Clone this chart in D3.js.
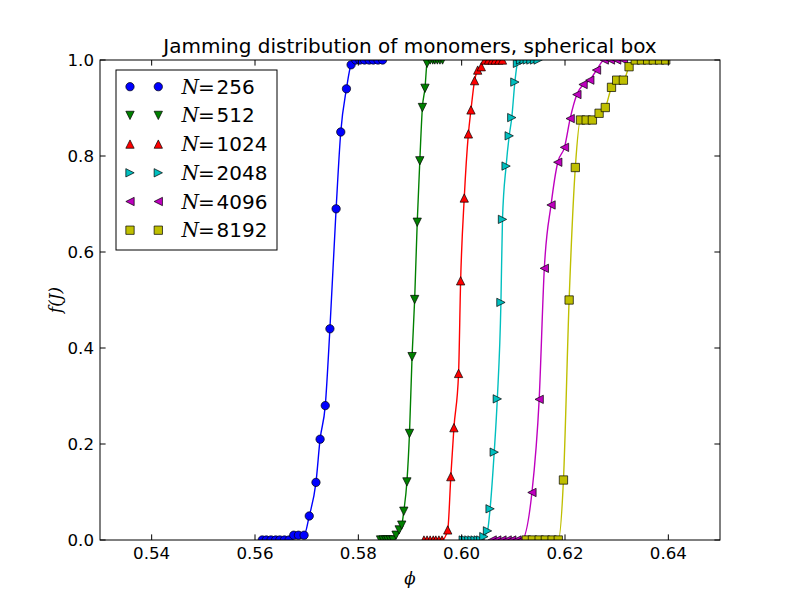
<!DOCTYPE html>
<html>
<head>
<meta charset="utf-8">
<script src="https://cdn.jsdelivr.net/npm/d3@7"></script>
<style>
  body { margin: 0; background: #ffffff; }
  svg { display: block; }
</style>
</head>
<body>
<svg id="chart" width="800" height="600"></svg>
<script>
// ---------- data ----------
const seriesNames = ["256", "512", "1024", "2048", "4096", "8192"];

const phi256 = [0.5614,0.5622,0.5631,0.5640,0.5648,0.5657,0.5666,0.5675,0.5684,0.5695,0.5705,0.5718,0.5726,0.5736,0.5745,0.5757,0.5766,0.5777,0.5786,0.5795,0.5803,0.5812,0.5821,0.5829,0.5838,0.5847];
const f256   = [0,0,0,0,0,0,0,0.01,0.01,0.01,0.05,0.12,0.21,0.28,0.44,0.69,0.85,0.94,0.99,1,1,1,1,1,1,1];

const phi512 = [0.5843,0.5848,0.5853,0.5857,0.5862,0.5867,0.5873,0.5879,0.5884,0.5888,0.5894,0.5899,0.5904,0.5909,0.5914,0.5919,0.5924,0.5929,0.5933,0.5939,0.5944,0.5948,0.5953,0.5958,0.5963];
const f512   = [0,0,0,0,0,0,0.01,0.021,0.031,0.06,0.121,0.222,0.382,0.501,0.662,0.79,0.901,0.941,0.993,1,1,1,1,1,1];

const phi1024 = [0.5927,0.5933,0.5939,0.5945,0.5950,0.5956,0.5962,0.5973,0.5979,0.5985,0.5994,0.5998,0.6005,0.6013,0.6018,0.6025,0.6031,0.6038,0.6045,0.6052,0.6059,0.6065,0.6072,0.6079];
const f1024   = [0,0,0,0,0,0,0,0.021,0.132,0.234,0.347,0.54,0.7125,0.846,0.896,0.957,0.979,0.986,1,1,1,1,1,1];

const phi2048 = [0.6003,0.6008,0.6014,0.6020,0.6026,0.6032,0.6037,0.6043,0.6050,0.6055,0.6063,0.6069,0.6076,0.6079,0.6086,0.6092,0.6097,0.6103,0.6108,0.6114,0.6121,0.6127,0.6134,0.6141,0.6148];
const f2048   = [0,0,0,0,0,0,0,0.007,0.019,0.065,0.183,0.294,0.495,0.668,0.779,0.842,0.88,0.954,0.993,1,1,1,1,1,1];

const phi4096 = [0.6059,0.6068,0.6078,0.6088,0.6097,0.6107,0.6116,0.6136,0.6150,0.6160,0.6173,0.6186,0.6199,0.6210,0.6223,0.6235,0.6248,0.6261,0.6276,0.6288,0.6300,0.6313];
const f4096   = [0,0,0,0,0,0,0,0.099,0.293,0.566,0.698,0.787,0.818,0.878,0.928,0.949,0.958,0.979,1,1,1,1];

const phi8192 = [0.6125,0.6137,0.6150,0.6162,0.6175,0.6187,0.6197,0.6208,0.6220,0.6230,0.6241,0.6253,0.6266,0.6278,0.6290,0.6300,0.6313,0.6324,0.6336,0.6348,0.6360,0.6371,0.6383,0.6395];
const f8192   = [0,0,0,0,0,0,0.125,0.50,0.776,0.875,0.875,0.875,0.889,0.901,0.943,0.958,0.958,0.986,1,1,1,1,1,1];

const xTicks = [0.54, 0.56, 0.58, 0.60, 0.62, 0.64];
const yTicks = [0.0, 0.2, 0.4, 0.6, 0.8, 1.0];
const titleText = "Jamming distribution of monomers, spherical box";

// ---------- setup ----------
const phis = [phi256, phi512, phi1024, phi2048, phi4096, phi8192];
const fs = [f256, f512, f1024, f2048, f4096, f8192];
const colors = ["#0000ff", "#008000", "#ff0000", "#00bfbf", "#bf00bf", "#bfbf00"];
const markers = ["circle", "tdown", "tup", "tright", "tleft", "square"];

const W = 800, H = 600;
const m = { left: 100, right: 80, top: 60, bottom: 60 };
const x = d3.scaleLinear().domain([0.53, 0.65]).range([m.left, W - m.right]);
const y = d3.scaleLinear().domain([0, 1]).range([H - m.bottom, m.top]);

const svg = d3.select("#chart");
svg.append("rect").attr("width", W).attr("height", H).attr("fill", "#ffffff");

svg.append("defs").append("clipPath").attr("id", "clip")
  .append("rect").attr("x", m.left).attr("y", m.top)
  .attr("width", W - m.left - m.right).attr("height", H - m.top - m.bottom);

const ms = 8.33, h = ms / 2;
function markerPath(type) {
  switch (type) {
    case "circle": return d3.symbol(d3.symbolCircle, Math.PI * h * h)();
    case "tup": return `M0,${-h}L${-h},${h}L${h},${h}Z`;
    case "tdown": return `M0,${h}L${-h},${-h}L${h},${-h}Z`;
    case "tright": return `M${h},0L${-h},${-h}L${-h},${h}Z`;
    case "tleft": return `M${-h},0L${h},${-h}L${h},${h}Z`;
    case "square": return `M${-h},${-h}H${h}V${h}H${-h}Z`;
  }
}

const plot = svg.append("g").attr("clip-path", "url(#clip)");
const line = d3.line().x(d => x(d[0])).y(d => y(d[1])).curve(d3.curveMonotoneX);

seriesNames.forEach((name, i) => {
  const pts = phis[i].map((p, k) => [p, fs[i][k]]);
  const g = plot.append("g");
  g.append("path").datum(pts).attr("d", line)
    .attr("fill", "none").attr("stroke", colors[i]).attr("stroke-width", 1.39);
  g.selectAll("path.mk").data(pts).join("path").attr("class", "mk")
    .attr("d", markerPath(markers[i]))
    .attr("transform", d => `translate(${x(d[0])},${y(d[1])})`)
    .attr("fill", colors[i]).attr("stroke", "#000").attr("stroke-width", 0.7);
});

// ---------- axes ----------
const tickLen = 5.6;
const font = "DejaVu Sans, sans-serif";
const axes = svg.append("g");
xTicks.forEach(t => {
  const px = x(t);
  axes.append("line").attr("x1", px).attr("x2", px).attr("y1", y(0)).attr("y2", y(0) - tickLen).attr("stroke", "#000");
  axes.append("line").attr("x1", px).attr("x2", px).attr("y1", y(1)).attr("y2", y(1) + tickLen).attr("stroke", "#000");
  axes.append("text").attr("x", px).attr("y", y(0) + 18.5).attr("text-anchor", "middle")
    .attr("font-family", font).attr("font-size", 16.67).text(t.toFixed(2));
});
yTicks.forEach(t => {
  const py = y(t);
  axes.append("line").attr("x1", m.left).attr("x2", m.left + tickLen).attr("y1", py).attr("y2", py).attr("stroke", "#000");
  axes.append("line").attr("x1", W - m.right).attr("x2", W - m.right - tickLen).attr("y1", py).attr("y2", py).attr("stroke", "#000");
  axes.append("text").attr("x", m.left - 6).attr("y", py + 6).attr("text-anchor", "end")
    .attr("font-family", font).attr("font-size", 16.67).text(t.toFixed(1));
});
axes.append("rect").attr("x", m.left).attr("y", m.top)
  .attr("width", W - m.left - m.right).attr("height", H - m.top - m.bottom)
  .attr("fill", "none").attr("stroke", "#000").attr("stroke-width", 1);

// title
svg.append("text").attr("x", (m.left + W - m.right) / 2).attr("y", 53)
  .attr("text-anchor", "middle").attr("font-family", font).attr("font-size", 20)
  .text(titleText);

// axis labels
svg.append("text").attr("x", (m.left + W - m.right) / 2).attr("y", 584)
  .attr("text-anchor", "middle").attr("font-family", "DejaVu Serif, serif")
  .attr("font-style", "italic").attr("font-size", 16.67).text("ϕ");
svg.append("text").attr("transform", `translate(61,${(m.top + H - m.bottom) / 2}) rotate(-90)`)
  .attr("text-anchor", "middle").attr("font-family", "DejaVu Serif, serif")
  .attr("font-style", "italic").attr("font-size", 16.67).text("f(J)");

// ---------- legend ----------
const leg = svg.append("g");
leg.append("rect").attr("x", 116).attr("y", 70).attr("width", 161).attr("height", 180)
  .attr("fill", "#fff").attr("stroke", "#000").attr("stroke-width", 1);
seriesNames.forEach((name, i) => {
  const ry = 86.7 + i * 28.7;
  [130, 158.3].forEach(mx => {
    leg.append("path").attr("d", markerPath(markers[i]))
      .attr("transform", `translate(${mx},${ry})`)
      .attr("fill", colors[i]).attr("stroke", "#000").attr("stroke-width", 0.7);
  });
  const t = leg.append("text").attr("y", ry + 7).attr("font-size", 20).attr("font-family", font);
  t.append("tspan").attr("x", 181.5).attr("font-family", "DejaVu Serif, serif").attr("font-style", "italic").text("N");
  t.append("tspan").attr("x", 198).text("=");
  t.append("tspan").attr("x", 216.5).text(name);
});
</script>
</body>
</html>
